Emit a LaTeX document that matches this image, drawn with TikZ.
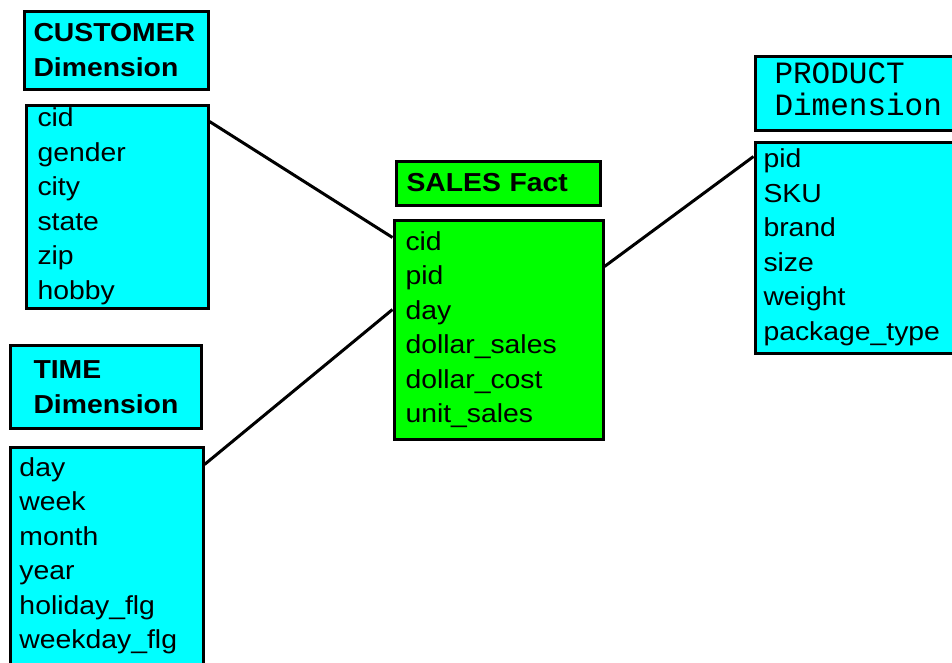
\documentclass[tikz,border=0pt]{standalone}
\usepackage{fontspec}
\setmainfont{Liberation Sans}[FakeStretch=1.09]
\setmonofont{Liberation Mono}
\definecolor{dimcyan}{RGB}{0,255,255}
\definecolor{factgreen}{RGB}{0,255,0}

\begin{document}
\begin{tikzpicture}[x=1pt, y=-1pt]
    \tikzset{
      table/.style={rectangle, draw, line width=3pt, anchor=north west,
        align=left, inner ysep=0pt, font=\fontsize{26pt}{34.5pt}\selectfont},
      dim/.style={table, fill=dimcyan},
      fact/.style={table, fill=factgreen},
      head/.style={font=\bfseries\fontsize{26pt}{35pt}\selectfont},
      monohead/.style={font=\ttfamily\fontsize{31pt}{32pt}\selectfont},
      link/.style={line width=3pt}
    }
    \useasboundingbox (0,0) rectangle (952,662);
    \clip (0,0) rectangle (952,662);
    % customer dimension
    \node[dim, head, minimum width=184pt, minimum height=78.5pt,
      inner xsep=9.5pt, text width=165pt] (custhead) at (22.5,9.5)
      {CUSTOMER\\Dimension};
    \node[dim, minimum width=182pt, minimum height=203pt,
      inner xsep=11.5pt, text width=159pt] (custattr) at (24.5,103.5)
      {cid\\gender\\city\\state\\zip\\hobby};
    % time dimension
    \node[dim, head, minimum width=191pt, minimum height=83.5pt,
      inner xsep=23.5pt, text width=144pt] (timehead) at (8.5,343.5)
      {TIME\\Dimension};
    \node[dim, minimum width=193pt, inner ysep=10.5pt, text depth=187.5pt,
      inner xsep=9.5pt, text width=174pt] (timeattr) at (8.5,445.5)
      {day\\week\\month\\year\\holiday\_flg\\weekday\_flg};
    % sales fact
    \node[fact, head, minimum width=204.5pt, minimum height=44pt,
      inner xsep=10.5pt, text width=183.5pt] (saleshead) at (394.5,159.5)
      {SALES Fact};
    \node[fact, minimum width=209pt, minimum height=219pt,
      inner xsep=11.5pt, text width=186pt] (salesattr) at (392.5,218.5)
      {cid\\pid\\day\\dollar\_sales\\dollar\_cost\\unit\_sales};
    % product dimension
    \node[dim, monohead, minimum width=216pt, minimum height=74pt, text depth=39pt,
      inner xsep=19.5pt, text width=177pt] (prodhead) at (753.5,54.5)
      {PRODUCT\\Dimension};
    \node[dim, minimum width=216pt, minimum height=211pt,
      inner xsep=8.5pt, text width=199pt] (prodattr) at (753.5,140.5)
      {pid\\SKU\\brand\\size\\weight\\package\_type};
    % links
    \draw[link] ([yshift=-18pt]custattr.north east) -- ([yshift=-19pt]salesattr.north west);
    \draw[link] ([yshift=-19pt]timeattr.north east) -- ([yshift=-91pt]salesattr.north west);
    \draw[link] ([yshift=-48pt]salesattr.north east) -- ([yshift=-16pt]prodattr.north west);
  \end{tikzpicture}
\end{document}
